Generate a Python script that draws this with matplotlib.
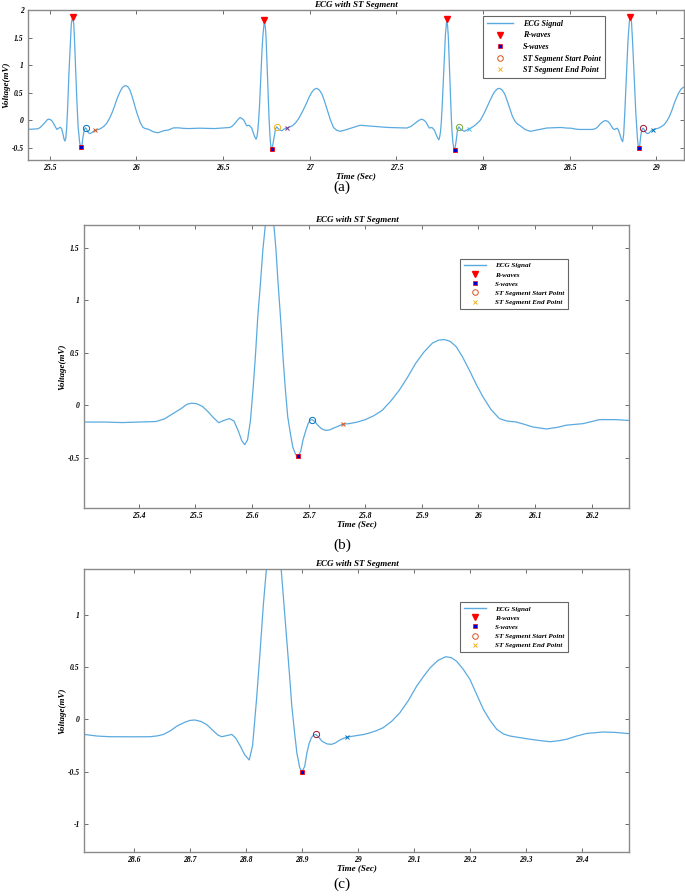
import matplotlib
matplotlib.use('Agg')
import matplotlib.pyplot as plt
import numpy as np
from matplotlib.lines import Line2D
from matplotlib.ticker import FormatStrFormatter
from matplotlib.font_manager import FontProperties

plt.rcParams['font.family'] = ['Liberation Serif', 'DejaVu Serif']

# ECG trace, one list per beat (time in s, voltage in mV)
beat1_t = [25.300, 25.340, 25.370, 25.400, 25.430, 25.445, 25.460, 25.475, 25.485, 25.493,
           25.502, 25.512, 25.522, 25.532, 25.541, 25.550, 25.560, 25.568, 25.576, 25.582,
           25.587, 25.592, 25.597, 25.602, 25.606, 25.610, 25.615, 25.619, 25.624, 25.631,
           25.638, 25.642, 25.646, 25.651, 25.655, 25.659, 25.663, 25.668, 25.672, 25.677,
           25.681, 25.686, 25.690, 25.695, 25.699, 25.703, 25.706, 25.711, 25.716, 25.723,
           25.730, 25.737, 25.743, 25.752, 25.760, 25.772, 25.786, 25.800, 25.815, 25.830,
           25.845, 25.860, 25.875, 25.889, 25.904, 25.919, 25.930, 25.940, 25.950, 25.961,
           25.972, 25.984, 25.996, 26.008, 26.022, 26.037, 26.050, 26.067, 26.080, 26.096,
           26.120, 26.140, 26.155, 26.185, 26.214, 26.243, 26.266]
beat1_v = [-0.160, -0.160, -0.165, -0.160, -0.155, -0.130, -0.080, -0.030, 0.010, 0.020,
           0.015, -0.010, -0.060, -0.120, -0.166, -0.145, -0.127, -0.150, -0.250, -0.340,
           -0.376, -0.330, -0.150, 0.175, 0.480, 0.840, 1.180, 1.480, 1.750, 1.880,
           1.750, 1.500, 1.160, 0.780, 0.430, 0.140, -0.110, -0.280, -0.400, -0.470,
           -0.484, -0.440, -0.330, -0.240, -0.175, -0.140, -0.137, -0.155, -0.190, -0.225,
           -0.240, -0.235, -0.220, -0.200, -0.180, -0.175, -0.160, -0.137, -0.100, -0.048,
           0.040, 0.143, 0.270, 0.400, 0.510, 0.595, 0.622, 0.627, 0.610, 0.557,
           0.460, 0.334, 0.200, 0.080, -0.040, -0.127, -0.150, -0.160, -0.180, -0.207,
           -0.226, -0.210, -0.190, -0.175, -0.137, -0.137, -0.145]

beat2_t = [26.300, 26.366, 26.450, 26.540, 26.555, 26.570, 26.585, 26.598, 26.610, 26.620,
           26.636, 26.650, 26.665, 26.680, 26.690, 26.695, 26.700, 26.705, 26.710, 26.715,
           26.720, 26.725, 26.730, 26.738, 26.744, 26.748, 26.752, 26.756, 26.760, 26.765,
           26.769, 26.773, 26.777, 26.781, 26.786, 26.792, 26.798, 26.803, 26.810, 26.818,
           26.825, 26.838, 26.852, 26.867, 26.885, 26.900, 26.920, 26.940, 26.960, 26.980,
           26.995, 27.010, 27.025, 27.041, 27.055, 27.070, 27.085, 27.100, 27.118, 27.137,
           27.155, 27.175, 27.200, 27.230]
beat2_v = [-0.150, -0.143, -0.150, -0.130, -0.100, -0.050, 0.010, 0.050, 0.030, 0.000,
           -0.100, -0.090, -0.140, -0.280, -0.343, -0.300, -0.200, 0.000, 0.250, 0.600,
           0.950, 1.300, 1.550, 1.810, 1.680, 1.500, 1.150, 0.800, 0.420, 0.050,
           -0.200, -0.400, -0.490, -0.520, -0.460, -0.350, -0.230, -0.150, -0.120, -0.150,
           -0.170, -0.190, -0.160, -0.140, -0.120, -0.100, -0.040, 0.050, 0.170, 0.300,
           0.410, 0.500, 0.560, 0.580, 0.550, 0.480, 0.350, 0.200, 0.020, -0.130,
           -0.180, -0.200, -0.180, -0.150]

beat3_t = [27.291, 27.368, 27.450, 27.561, 27.585, 27.610, 27.630, 27.647, 27.660, 27.670,
           27.690, 27.705, 27.720, 27.735, 27.745, 27.750, 27.755, 27.760, 27.765, 27.770,
           27.775, 27.779, 27.783, 27.791, 27.796, 27.800, 27.804, 27.808, 27.812, 27.817,
           27.821, 27.826, 27.831, 27.836, 27.841, 27.846, 27.851, 27.855, 27.861, 27.868,
           27.875, 27.892, 27.905, 27.917, 27.935, 27.950, 27.968, 27.984, 27.997, 28.010,
           28.026, 28.042, 28.056, 28.070, 28.083, 28.096, 28.110, 28.125, 28.141, 28.157,
           28.170, 28.185, 28.200, 28.215, 28.245, 28.273, 28.320, 28.369]
beat3_v = [-0.090, -0.110, -0.130, -0.140, -0.110, -0.050, 0.000, 0.020, 0.000, -0.030,
           -0.140, -0.130, -0.180, -0.300, -0.355, -0.300, -0.200, 0.000, 0.300, 0.650,
           1.000, 1.300, 1.550, 1.830, 1.700, 1.500, 1.150, 0.800, 0.420, 0.050,
           -0.200, -0.400, -0.500, -0.530, -0.460, -0.350, -0.220, -0.150, -0.120, -0.150,
           -0.170, -0.200, -0.180, -0.160, -0.130, -0.100, -0.050, 0.000, 0.070, 0.150,
           0.260, 0.370, 0.460, 0.530, 0.570, 0.580, 0.550, 0.480, 0.340, 0.190,
           0.070, -0.020, -0.070, -0.100, -0.170, -0.200, -0.170, -0.140]

beat4_t = [28.450, 28.480, 28.511, 28.535, 28.557, 28.600, 28.629, 28.642, 28.653, 28.665,
           28.677, 28.690, 28.700, 28.709, 28.720, 28.730, 28.740, 28.750, 28.757, 28.766,
           28.775, 28.782, 28.790, 28.798, 28.806, 28.812, 28.816, 28.819, 28.825, 28.831,
           28.836, 28.840, 28.845, 28.851, 28.857, 28.863, 28.868, 28.873, 28.878, 28.882,
           28.887, 28.891, 28.896, 28.900, 28.905, 28.909, 28.913, 28.917, 28.921, 28.925,
           28.930, 28.936, 28.945, 28.953, 28.960, 28.967, 28.975, 28.980, 28.990, 29.000,
           29.010, 29.022, 29.033, 29.045, 29.060, 29.075, 29.090, 29.105, 29.117, 29.129,
           29.143, 29.157, 29.167, 29.176, 29.188, 29.200, 29.212, 29.224, 29.236, 29.248,
           29.260, 29.272, 29.290, 29.307, 29.325, 29.343, 29.358, 29.373, 29.390, 29.409,
           29.438, 29.460, 29.485]
beat4_v = [-0.130, -0.140, -0.144, -0.160, -0.166, -0.167, -0.166, -0.158, -0.144, -0.110,
           -0.064, -0.030, -0.010, -0.006, -0.020, -0.050, -0.100, -0.150, -0.166, -0.155,
           -0.144, -0.180, -0.255, -0.340, -0.389, -0.250, 0.000, 0.190, 0.620, 1.084,
           1.400, 1.600, 1.800, 1.880, 1.780, 1.440, 1.100, 0.766, 0.420, 0.128,
           -0.130, -0.320, -0.460, -0.504, -0.450, -0.320, -0.230, -0.175, -0.150, -0.144,
           -0.170, -0.210, -0.235, -0.239, -0.225, -0.200, -0.180, -0.170, -0.162, -0.155,
           -0.145, -0.128, -0.108, -0.080, -0.020, 0.064, 0.180, 0.319, 0.410, 0.494,
           0.565, 0.600, 0.590, 0.558, 0.480, 0.383, 0.240, 0.096, -0.010, -0.096,
           -0.140, -0.160, -0.175, -0.190, -0.203, -0.214, -0.205, -0.190, -0.160, -0.134,
           -0.121, -0.125, -0.137]

time_s = beat1_t + beat2_t + beat3_t + beat4_t
ecg_mv = beat1_v + beat2_v + beat3_v + beat4_v

r_t = [25.631, 26.738, 27.791, 28.851]
r_v = [1.88, 1.81, 1.83, 1.88]
s_t = [25.681, 26.781, 27.836, 28.900]
s_v = [-0.484, -0.52, -0.53, -0.504]
st_start_t = [25.706, 26.810, 27.861, 28.925]
st_start_v = [-0.137, -0.12, -0.12, -0.144]
st_end_t = [25.760, 26.867, 27.917, 28.980]
st_end_v = [-0.18, -0.14, -0.16, -0.17]

legend_names = ['ECG Signal', 'R-waves', 'S-waves', 'ST Segment Start Point',
                'ST Segment End Point']

# matlab default colour order
mcol = [(0, 0.447, 0.741), (0.85, 0.325, 0.098), (0.929, 0.694, 0.125),
        (0.494, 0.184, 0.556), (0.466, 0.674, 0.188), (0.301, 0.745, 0.933),
        (0.635, 0.078, 0.184)]
line_col = '#5aaae0'

fig = plt.figure(figsize=(6.85, 8.96), dpi=100)

W, H = 685.0, 896.0
def box(l, t, r, b):
    return [l / W, 1 - b / H, (r - l) / W, (b - t) / H]

panels = [
    dict(rect=box(28, 10, 684, 160), xlim=(25.374, 29.16), ylim=(-0.72, 2.0),
         xt=np.arange(25.5, 29.01, 0.5), yt=[-0.5, 0, 0.5, 1, 1.5, 2],
         leg=(0.694, 0.962), legfs=5.8, lab='(a)', laby=187),
    dict(rect=box(84, 225, 629, 508), xlim=(25.303, 26.266), ylim=(-0.98, 1.72),
         xt=np.arange(25.4, 26.21, 0.1), yt=[-0.5, 0, 0.5, 1, 1.5],
         leg=(0.690, 0.880), legfs=5.1, lab='(b)', laby=545),
    dict(rect=box(84, 569, 629, 852), xlim=(28.511, 29.484), ylim=(-1.27, 1.44),
         xt=np.arange(28.6, 29.41, 0.1), yt=[-1, -0.5, 0, 0.5, 1],
         leg=(0.690, 0.883), legfs=5.1, lab='(c)', laby=884),
]

tick_fp = FontProperties(family='Liberation Serif', style='italic', weight='bold', size=5.5)

for p in panels:
    ax = fig.add_axes(p['rect'])
    ax.plot(time_s, ecg_mv, color=line_col, lw=0.9)
    ax.plot(r_t, r_v, 'v', color='red', ms=4.5, ls='none')
    ax.plot(s_t, s_v, 's', mfc=(0, 0, 0.8), mec='red', ms=3.2, mew=0.6, ls='none')
    for i in range(4):
        ax.plot(st_start_t[i], st_start_v[i], 'o', mfc='none', mec=mcol[(2 * i) % 7],
                ms=4.5, mew=0.7)
        ax.plot(st_end_t[i], st_end_v[i], 'x', color=mcol[(2 * i + 1) % 7], ms=3.5, mew=0.7)
    ax.set_xlim(*p['xlim'])
    ax.set_ylim(*p['ylim'])
    ax.set_xticks(np.round(p['xt'], 2))
    ax.set_yticks(p['yt'])
    ax.xaxis.set_major_formatter(FormatStrFormatter('%g'))
    ax.yaxis.set_major_formatter(FormatStrFormatter('%g'))
    ax.tick_params(direction='in', top=True, right=True, length=3, width=0.6,
                   color='#555555', pad=3)
    for lbl in ax.get_xticklabels() + ax.get_yticklabels():
        lbl.set_fontproperties(tick_fp)
    for sp in ax.spines.values():
        sp.set_color('#8a8a8a')
        sp.set_linewidth(1.0)
    ax.set_title('ECG with ST Segment', fontsize=6.5, fontweight='bold', style='italic', pad=2)
    ax.set_xlabel('Time (Sec)', fontsize=6.5, fontweight='bold', style='italic', labelpad=0)
    ax.set_ylabel('Voltage(mV)', fontsize=6.5, fontweight='bold', style='italic', labelpad=1)

    handles = [Line2D([], [], color=line_col, lw=1.0),
               Line2D([], [], marker='v', color='red', ls='none', ms=4),
               Line2D([], [], marker='s', mfc=(0, 0, 0.8), mec='red', ls='none', ms=3, mew=0.5),
               Line2D([], [], marker='o', mfc='none', mec=mcol[1], ls='none', ms=4, mew=0.7),
               Line2D([], [], marker='x', color=mcol[2], ls='none', ms=3.5, mew=0.7)]
    leg = ax.legend(handles, legend_names, loc='upper left', bbox_to_anchor=p['leg'],
                    prop=dict(family='Liberation Serif', style='italic', weight='bold',
                              size=p['legfs']),
                    fancybox=False, framealpha=1, edgecolor='#666666', handlelength=3.2,
                    labelspacing=0.45, borderpad=0.5, handletextpad=1.2, borderaxespad=0)
    leg.get_frame().set_linewidth(0.8)

    fig.text(342 / W, 1 - p['laby'] / H, p['lab'], ha='center', va='center', fontsize=11,
             family='Liberation Serif')

fig.savefig('out.png', dpi=100)
